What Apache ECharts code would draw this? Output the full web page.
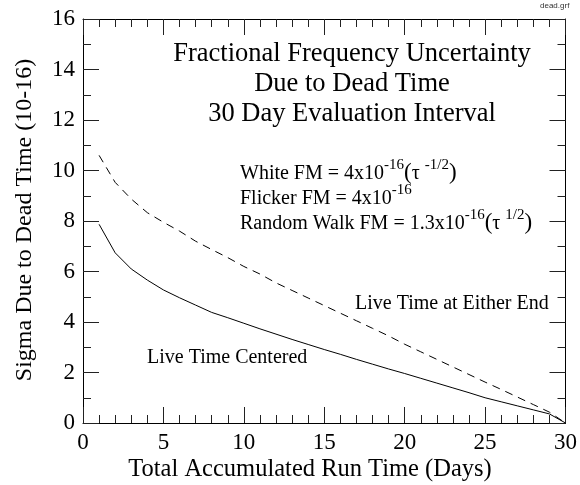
<!DOCTYPE html>
<html>
<head>
<meta charset="utf-8">
<script src="https://cdn.jsdelivr.net/npm/echarts@6/dist/echarts.min.js"></script>
<style>
  html, body { margin: 0; padding: 0; background: #fff; }
  #chart { width: 580px; height: 485px; }
</style>
</head>
<body>
<div id="chart"></div>
<script>
// Accumulated run time, days
const days = [1, 2, 3, 4, 5, 6, 7, 8, 9, 10, 11, 12, 13, 14, 15,
              16, 17, 18, 19, 20, 21, 22, 23, 24, 25, 26, 27, 28, 29, 30];

// Sigma due to dead time (units of 1e-16), live time centered
const centered = [7.87, 6.74, 6.10, 5.66, 5.27, 4.96, 4.67, 4.38, 4.17, 3.95,
                  3.73, 3.52, 3.31, 3.11, 2.91, 2.72, 2.52, 2.33, 2.14, 1.96,
                  1.77, 1.58, 1.39, 1.20, 1.00, 0.84, 0.68, 0.52, 0.36, 0.00];

// Sigma due to dead time (units of 1e-16), live time at either end
const eitherEnd = [10.60, 9.53, 8.87, 8.33, 7.95, 7.60, 7.20, 6.87, 6.55, 6.20,
                   5.90, 5.55, 5.25, 4.95, 4.65, 4.35, 4.05, 3.75, 3.45, 3.12,
                   2.82, 2.52, 2.22, 1.92, 1.62, 1.33, 1.03, 0.73, 0.43, 0.00];

const xTicks = [0, 5, 10, 15, 20, 25, 30];
const yTicks = [0, 2, 4, 6, 8, 10, 12, 14, 16];

const SERIF = '"Liberation Serif", "Times New Roman", serif';

const chart = echarts.init(document.getElementById('chart'), null, { renderer: 'canvas' });

function pairs(ys) { return days.map((d, i) => [d, ys[i]]); }

const frameLine = { show: true, onZero: false, lineStyle: { color: '#000', width: 1 } };

function xAxisDef(pos, showLabels) {
  return {
    type: 'value', position: pos, min: xTicks[0], max: xTicks[xTicks.length - 1],
    interval: 5,
    axisLine: frameLine,
    axisTick: { show: true, inside: true, length: 16, lineStyle: { color: '#222', width: 1 } },
    minorTick: { show: true, splitNumber: 5, length: 8, lineStyle: { color: '#222', width: 1 } },
    axisLabel: { show: showLabels, margin: 8, color: '#000', fontFamily: SERIF, fontSize: 23 },
    splitLine: { show: false }
  };
}
function yAxisDef(pos, showLabels) {
  return {
    type: 'value', position: pos, min: yTicks[0], max: yTicks[yTicks.length - 1],
    interval: 2,
    axisLine: frameLine,
    axisTick: { show: true, inside: true, length: 16, lineStyle: { color: '#222', width: 1 } },
    minorTick: { show: true, splitNumber: 2, length: 8, lineStyle: { color: '#222', width: 1 } },
    axisLabel: { show: showLabels, margin: 8, color: '#000', fontFamily: SERIF, fontSize: 23 },
    splitLine: { show: false }
  };
}

const normal = { fontFamily: SERIF, fontSize: 20, color: '#000', lineHeight: 26, verticalAlign: 'bottom' };
const paren = { fontFamily: SERIF, fontSize: 23, color: '#000', lineHeight: 26, verticalAlign: 'bottom' };
const sup = { fontFamily: SERIF, fontSize: 15, color: '#000', lineHeight: 15, verticalAlign: 'top' };
const richParts = { n: normal, p: paren, s: sup };

chart.setOption({
  animation: false,
  backgroundColor: '#fff',
  grid: { left: 83, right: 13, top: 19, bottom: 62 },
  xAxis: [xAxisDef('bottom', true), xAxisDef('top', false)],
  yAxis: [yAxisDef('left', true), yAxisDef('right', false)],
  series: [
    {
      name: 'Live Time Centered', type: 'line', data: pairs(centered),
      showSymbol: false, symbol: 'none',
      lineStyle: { color: '#000', width: 1, type: 'solid' }
    },
    {
      name: 'Live Time at Either End', type: 'line', data: pairs(eitherEnd),
      showSymbol: false, symbol: 'none',
      lineStyle: { color: '#000', width: 1, type: [8, 6] }
    }
  ],
  graphic: [
    {
      type: 'text', x: 352, y: 39,
      style: {
        text: 'Fractional Frequency Uncertainty\nDue to Dead Time\n30 Day Evaluation Interval',
        fontFamily: SERIF, fontSize: 26.5, lineHeight: 30, fill: '#000', align: 'center', verticalAlign: 'top'
      }
    },
    {
      type: 'text', x: 240, y: 158,
      style: {
        text: '{n|White FM = 4x10}{s|-16}{p|(}{n|τ }{s|-1/2}{p|)}',
        rich: richParts, verticalAlign: 'top'
      }
    },
    {
      type: 'text', x: 240, y: 183,
      style: {
        text: '{n|Flicker FM = 4x10}{s|-16}',
        rich: richParts, verticalAlign: 'top'
      }
    },
    {
      type: 'text', x: 240, y: 208,
      style: {
        text: '{n|Random Walk FM = 1.3x10}{s|-16}{p|(}{n|τ }{s|1/2}{p|)}',
        rich: richParts, verticalAlign: 'top'
      }
    },
    {
      type: 'text', x: 147, y: 358,
      style: { text: 'Live Time Centered', fontFamily: SERIF, fontSize: 20, fill: '#000', verticalAlign: 'middle' }
    },
    {
      type: 'text', x: 355, y: 304,
      style: { text: 'Live Time at Either End', fontFamily: SERIF, fontSize: 20, fill: '#000', verticalAlign: 'middle' }
    },
    {
      type: 'text', x: 310, y: 470,
      style: {
        text: 'Total Accumulated Run Time (Days)',
        fontFamily: SERIF, fontSize: 24.5, fill: '#000', align: 'center', verticalAlign: 'middle'
      }
    },
    {
      type: 'text', x: 25, y: 220, rotation: Math.PI / 2,
      style: {
        text: 'Sigma Due to Dead Time (10-16)',
        fontFamily: SERIF, fontSize: 24, fill: '#000', align: 'center', verticalAlign: 'middle'
      }
    },
    {
      type: 'text', x: 540, y: 2,
      style: { text: 'dead.grf', fontFamily: '"Liberation Sans", Arial, sans-serif', fontSize: 8, fill: '#333', verticalAlign: 'top' }
    }
  ]
});
</script>
</body>
</html>
